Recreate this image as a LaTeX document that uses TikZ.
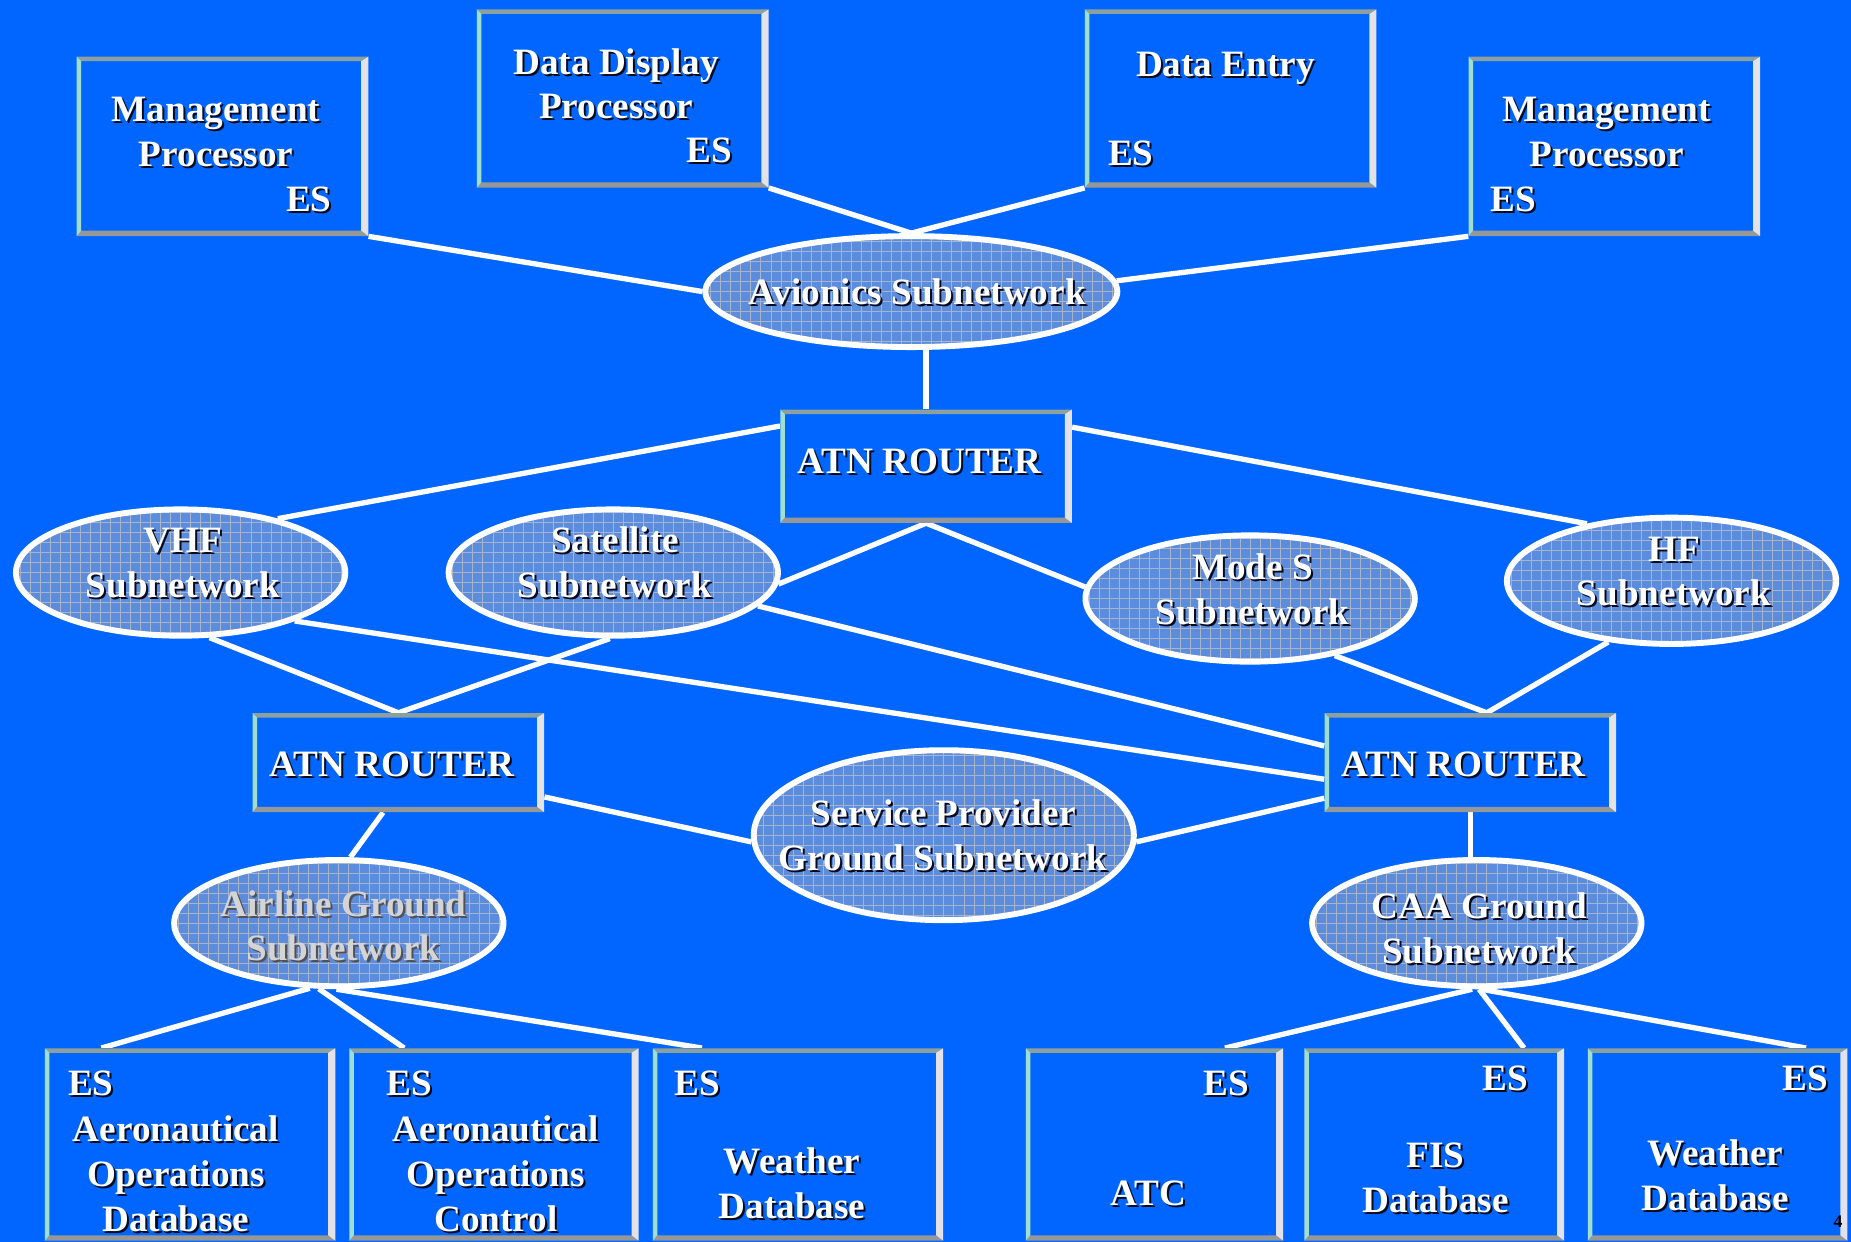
\documentclass[tikz,border=0pt]{standalone}
\usepackage{fontspec}
\setmainfont{Liberation Serif}
\usetikzlibrary{shapes.geometric,calc}
\definecolor{bg}{RGB}{0,102,255}
\definecolor{ellfill}{RGB}{92,140,222}
\definecolor{gridc}{RGB}{168,180,200}
\definecolor{shadowc}{RGB}{10,10,30}
\definecolor{bvtop}{RGB}{140,160,158}
\definecolor{bvbot}{RGB}{150,152,152}
\definecolor{bvleft}{RGB}{160,222,206}
\definecolor{bvright}{RGB}{226,226,232}
\definecolor{airtext}{RGB}{212,212,212}
\definecolor{airshadow}{RGB}{80,80,90}
\newcommand\bigfont{\fontsize{31.5}{38}\selectfont\bfseries}
\newcommand\shd[2][shadowc]{\leavevmode\rlap{\kern1.7pt\raisebox{-1.7pt}{\textcolor{#1}{#2}}}#2}
\pgfdeclarelayer{bgfill}
\pgfdeclarelayer{lines}
\pgfsetlayers{bgfill,lines,main}
\tikzset{
  bevelbox/.style={rectangle, fill=bg, draw=none, inner sep=0pt,
    path picture={
      \coordinate (bsw) at (path picture bounding box.south west);
      \coordinate (bne) at (path picture bounding box.north east);
      \coordinate (bnw) at (path picture bounding box.north west);
      \coordinate (bse) at (path picture bounding box.south east);
      \fill[bvtop] (bnw) -- (bne) -- ([shift={(-6pt,-3.8pt)}]bne) -- ([shift={(3.8pt,-3.8pt)}]bnw) -- cycle;
      \fill[bvbot] (bsw) -- (bse) -- ([shift={(-6pt,4.6pt)}]bse) -- ([shift={(3.8pt,4.6pt)}]bsw) -- cycle;
      \fill[bvleft] (bnw) -- ([shift={(3.8pt,-3.8pt)}]bnw) -- ([shift={(3.8pt,4.6pt)}]bsw) -- (bsw) -- cycle;
      \fill[bvright] (bne) -- ([shift={(-6pt,-3.8pt)}]bne) -- ([shift={(-6pt,4.6pt)}]bse) -- (bse) -- cycle;
    }},
  subnet/.style={ellipse, draw=white, line width=5pt, fill=ellfill, inner sep=0pt,
    minimum width=279pt, minimum height=107pt,
    path picture={\draw[gridc, line width=0.6pt, step=8.5pt]
      (path picture bounding box.south west) grid (path picture bounding box.north east);}},
  conn/.style={draw=white, line width=4.5pt},
  lbl/.style={text=white, font=\bigfont, inner sep=0pt, anchor=base},
}
\begin{document}
\begin{tikzpicture}[x=1pt,y=-1pt]
\useasboundingbox (0,0) rectangle (1568,1052);
\begin{pgfonlayer}{bgfill}
\fill[bg] (0,0) rectangle (1568,1052);
\end{pgfonlayer}

% boxes
\node[bevelbox, minimum width=247pt, minimum height=152pt] (mpl) at (188.5,124) {};
\node[bevelbox, minimum width=247pt, minimum height=151pt] (ddp) at (527.5,83.5) {};
\node[bevelbox, minimum width=247pt, minimum height=151pt] (de) at (1042.5,83.5) {};
\node[bevelbox, minimum width=247pt, minimum height=152pt] (mpr) at (1367.5,124) {};
\node[bevelbox, minimum width=247pt, minimum height=96pt] (r1) at (784.5,395) {};
\node[bevelbox, minimum width=247pt, minimum height=84pt] (r2) at (337.5,646) {};
\node[bevelbox, minimum width=247pt, minimum height=84pt] (r3) at (1245.5,646) {};
\node[bevelbox, minimum width=246pt, minimum height=163pt] (b1) at (161,969.5) {};
\node[bevelbox, minimum width=245pt, minimum height=163pt] (b2) at (418.5,969.5) {};
\node[bevelbox, minimum width=246pt, minimum height=163pt] (b3) at (676,969.5) {};
\node[bevelbox, minimum width=218pt, minimum height=163pt] (b4) at (978,969.5) {};
\node[bevelbox, minimum width=220pt, minimum height=163pt] (b5) at (1215,969.5) {};
\node[bevelbox, minimum width=220pt, minimum height=163pt] (b6) at (1455,969.5) {};

% subnetworks
\node[subnet, minimum width=349pt, minimum height=94pt] (av) at (772,247) {};
\node[subnet] (vhf) at (153,485) {};
\node[subnet] (sat) at (519.5,485) {};
\node[subnet] (modes) at (1059,507) {};
\node[subnet] (hf) at (1416,492) {};
\node[subnet, minimum width=322pt, minimum height=144pt] (spg) at (799.5,707.5) {};
\node[subnet] (air) at (287,782) {};
\node[subnet] (caa) at (1251,782) {};

% connectors
\begin{pgfonlayer}{lines}
\draw[conn] (mpl.south east) -- (av.west);
\draw[conn] (ddp.south east) -- (av.north);
\draw[conn] (de.south west) -- (av.north);
\draw[conn] (mpr.south west) -- (av.3);
\draw[conn] (r1.north) -- (r1.north |- av.south);
\draw[conn] ($(r1.north west)!0.146!(r1.south west)$) -- (vhf.29);
\draw[conn] ($(r1.north east)!0.156!(r1.south east)$) -- (hf.146);
\draw[conn] (r1.south) -- (sat.-4);
\draw[conn] (r1.south) -- (modes.176);
\draw[conn] (vhf.-66) -- (r2.north);
\draw[conn] (sat.-93) -- (r2.north);
\draw[conn] (vhf.-23) -- ($(r3.north west)!0.667!(r3.south west)$);
\draw[conn] (sat.-13) -- ($(r3.north west)!0.333!(r3.south west)$);
\draw[conn] (modes.-34) -- ([xshift=14pt]r3.north);
\draw[conn] (hf.-136) -- ([xshift=14pt]r3.north);
\draw[conn] ($(r2.north east)!0.845!(r2.south east)$) -- (spg.182);
\draw[conn] ($(r3.north west)!0.857!(r3.south west)$) -- (spg.-2);
\draw[conn] ([xshift=-13pt]r2.south) -- (air.80);
\draw[conn] (r3.south) -- (r3.south |- caa.north);
\draw[conn] (air.-114) -- ($(b1.north west)!0.195!(b1.north east)$);
\draw[conn] (air.-107) -- ($(b2.north west)!0.19!(b2.north east)$);
\draw[conn] (air.-92) -- ($(b3.north west)!0.17!(b3.north east)$);
\draw[conn] (caa.-94) -- ($(b4.north west)!0.773!(b4.north east)$);
\draw[conn] (caa.-88) -- ($(b5.north west)!0.845!(b5.north east)$);
\draw[conn] (caa.-86) -- ($(b6.north west)!0.84!(b6.north east)$);
\end{pgfonlayer}

% texts
\node[lbl] (tmpl1) at (183,103) {\shd{Management}};
\node[lbl] (tmpl2) at (183,141) {\shd{Processor}};
\node[lbl, anchor=base east] (tmpl3) at (281,179) {\shd{ES}};
\node[lbl] (tddp1) at (522,63) {\shd{Data Display}};
\node[lbl] (tddp2) at (522,100) {\shd{Processor}};
\node[lbl] (tddp3) at (601,138) {\shd{ES}};
\node[lbl] (tde1) at (1038,65) {\shd{Data Entry}};
\node[lbl] (tde2) at (958,140) {\shd{ES}};
\node[lbl] (tmpr1) at (1361,103) {\shd{Management}};
\node[lbl] (tmpr2) at (1361,141) {\shd{Processor}};
\node[lbl] (tmpr3) at (1282,179) {\shd{ES}};
\node[lbl] (tav) at (777,258) {\shd{Avionics Subnetwork}};
\node[lbl] (tr1) at (779,401) {\shd{ATN ROUTER}};
\node[lbl] (tvhf1) at (155,468) {\shd{VHF}};
\node[lbl] (tvhf2) at (155,506) {\shd{Subnetwork}};
\node[lbl] (tsat1) at (521,468) {\shd{Satellite}};
\node[lbl] (tsat2) at (521,506) {\shd{Subnetwork}};
\node[lbl] (tmodes1) at (1061,491) {\shd{Mode S}};
\node[lbl] (tmodes2) at (1061,529) {\shd{Subnetwork}};
\node[lbl] (thf1) at (1418,476) {\shd{HF}};
\node[lbl] (thf2) at (1418,513) {\shd{Subnetwork}};
\node[lbl] (tr2) at (332,658) {\shd{ATN ROUTER}};
\node[lbl] (tr3) at (1240,658) {\shd{ATN ROUTER}};
\node[lbl] (tspg1) at (799,699) {\shd{Service Provider}};
\node[lbl] (tspg2) at (799,737) {\shd{Ground Subnetwork}};
\node[lbl, text=airtext] (tair1) at (291,776) {\shd[airshadow]{Airline Ground}};
\node[lbl, text=airtext] (tair2) at (291,814) {\shd[airshadow]{Subnetwork}};
\node[lbl] (tcaa1) at (1253,778) {\shd{CAA Ground}};
\node[lbl] (tcaa2) at (1253,816) {\shd{Subnetwork}};
\node[lbl] (tb11) at (77,928) {\shd{ES}};
\node[lbl] (tb12) at (149,967) {\shd{Aeronautical}};
\node[lbl] (tb13) at (149,1005) {\shd{Operations}};
\node[lbl] (tb14) at (149,1043) {\shd{Database}};
\node[lbl] (tb21) at (347,928) {\shd{ES}};
\node[lbl] (tb22) at (420,967) {\shd{Aeronautical}};
\node[lbl] (tb23) at (420,1005) {\shd{Operations}};
\node[lbl] (tb24) at (420,1043) {\shd{Control}};
\node[lbl] (tb31) at (591,928) {\shd{ES}};
\node[lbl] (tb32) at (671,994) {\shd{Weather}};
\node[lbl] (tb33) at (671,1032) {\shd{Database}};
\node[lbl] (tb41) at (1039,928) {\shd{ES}};
\node[lbl] (tb42) at (973,1021) {\shd{ATC}};
\node[lbl] (tb51) at (1275,924) {\shd{ES}};
\node[lbl] (tb52) at (1216,989) {\shd{FIS}};
\node[lbl] (tb53) at (1216,1027) {\shd{Database}};
\node[lbl] (tb61) at (1529,924) {\shd{ES}};
\node[lbl] (tb62) at (1453,987) {\shd{Weather}};
\node[lbl] (tb63) at (1453,1025) {\shd{Database}};
\node[font=\fontsize{15}{15}\selectfont\bfseries, text=black, inner sep=0pt, anchor=base west] (pgnum) at (1553,1040) {4};
\end{tikzpicture}
\end{document}
